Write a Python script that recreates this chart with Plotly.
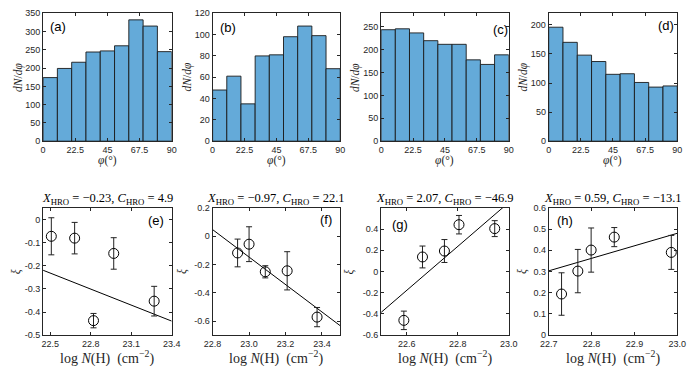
import plotly.graph_objects as go

W, H = 697, 366

# ---------------- data ----------------
bin_edges = [0, 10, 20, 30, 40, 50, 60, 70, 80, 90]
hist_a = [174, 199, 216, 244, 247, 261, 332, 315, 245]
hist_b = [48, 61, 35, 80, 81, 98, 108, 99, 68]
hist_c = [244, 246, 237, 220, 212, 212, 178, 168, 189]
hist_d = [196, 170, 148, 137, 115, 116, 101, 93, 95]
hist_ymax = [350, 120, 280, 220]
hist_yticks = [[0, 50, 100, 150, 200, 250, 300, 350],
               [0, 20, 40, 60, 80, 100, 120],
               [0, 50, 100, 150, 200, 250],
               [0, 50, 100, 150, 200]]
hist_xticks = [0, 22.5, 45, 67.5, 90]
hist_labels = ["(a)", "(b)", "(c)", "(d)"]

x_e = [22.507, 22.68, 22.82, 22.97, 23.27]
y_e = [-0.073, -0.081, -0.437, -0.147, -0.353]
err_e = [0.080, 0.068, 0.031, 0.068, 0.064]

x_f = [22.937, 23.0, 23.089, 23.209, 23.373]
y_f = [-0.119, -0.057, -0.252, -0.245, -0.572]
err_f = [0.098, 0.123, 0.043, 0.135, 0.068]

x_g = [22.589, 22.662, 22.748, 22.805, 22.945]
y_g = [-0.46, 0.137, 0.193, 0.441, 0.404]
err_g = [0.087, 0.103, 0.108, 0.087, 0.075]

x_h = [22.73, 22.768, 22.799, 22.853, 22.986]
y_h = [0.194, 0.302, 0.401, 0.462, 0.39]
err_h = [0.100, 0.102, 0.104, 0.045, 0.080]

fit_slope = [-0.23, -0.97, 2.07, 0.59]
fit_intercept = [4.943, 22.162, -46.96, -13.09]
title_X = ["-0.23", "-0.97", "2.07", "0.59"]
title_C = ["4.9", "22.1", "-46.9", "-13.1"]

sc_xrange = [[22.446, 23.4], [22.8, 23.5], [22.5, 23.0], [22.7, 23.0]]
sc_yrange = [[-0.5, 0.05], [-0.7, 0.2], [-0.6, 0.6], [0.0, 0.6]]
sc_xticks = [[22.5, 22.8, 23.1, 23.4], [22.8, 23.0, 23.2, 23.4], [22.6, 22.8, 23.0], [22.7, 22.8, 22.9, 23.0]]
sc_yticks = [[-0.5, -0.4, -0.3, -0.2, -0.1, 0.0],
             [-0.6, -0.4, -0.2, 0.0, 0.2],
             [-0.6, -0.4, -0.2, 0.0, 0.2, 0.4],
             [0.0, 0.1, 0.2, 0.3, 0.4, 0.5, 0.6]]
sc_labels = ["(e)", "(f)", "(g)", "(h)"]

# ---------------- layout geometry (pixels) ----------------
cols = [(35, 167), (209, 340), (382, 513), (554, 686)]
top_row = (8.5, 140)
bot_row = (208.5, 339.5)
top_ylabel_px = [9, 183, 355, 528]
bot_ylabel_px = [8, 178, 350, 527]
top_xlabel_py = 160
bot_xlabel_py = 362
title_py = 199
# panel label centres in pixels
hist_lab_px = [(50, 22), (224.5, 23), (504.5, 25), (674.5, 21.5)]
sc_lab_px = [(151, 222), (325.5, 221), (401, 226), (570.5, 222)]

def xdom(c):
    return [c[0] / W, c[1] / W]

def ydom(r):
    return [1 - r[1] / H, 1 - r[0] / H]

AX_COL = "#262626"
TICK_FONT = dict(family="Liberation Sans, Arial", size=9, color="#262626")
SERIF = "Liberation Serif, Times New Roman, serif"
LAB_FONT = dict(family=SERIF, size=11.5, color="#262626")
XLAB2_FONT = dict(family=SERIF, size=14, color="#262626")
PANEL_FONT = dict(family="Liberation Sans, Arial", size=13, color="black")
BAR_COL = "rgb(100,170,217)"

def fmt(v):
    return "%g" % round(v, 3)

fig = go.Figure()
layout = dict(width=W, height=H, margin=dict(l=0, r=0, t=0, b=0),
              paper_bgcolor="white", plot_bgcolor="white", showlegend=False)
annotations = []

def axis_common():
    return dict(showline=True, mirror="ticks", linecolor=AX_COL, linewidth=1,
                ticks="inside", ticklen=3, tickcolor=AX_COL, showgrid=False,
                zeroline=False, tickfont=TICK_FONT)

def add_text(text, px, py, font=LAB_FONT, angle=0):
    annotations.append(dict(text=text, xref="paper", yref="paper", x=px / W, y=1 - py / H,
                            xanchor="center", yanchor="middle", showarrow=False, font=font,
                            textangle=angle))

hists = [hist_a, hist_b, hist_c, hist_d]
centers = [(bin_edges[i] + bin_edges[i + 1]) / 2 for i in range(len(bin_edges) - 1)]
widths = [bin_edges[i + 1] - bin_edges[i] for i in range(len(bin_edges) - 1)]

for i in range(4):
    n = i + 1
    xa = "x" if n == 1 else f"x{n}"
    ya = "y" if n == 1 else f"y{n}"
    fig.add_trace(go.Bar(x=centers, y=hists[i], width=widths, xaxis=xa, yaxis=ya,
                         marker=dict(color=BAR_COL, line=dict(color="#1a1a1a", width=0.9))))
    xk = "xaxis" if n == 1 else f"xaxis{n}"
    yk = "yaxis" if n == 1 else f"yaxis{n}"
    ax = axis_common()
    ax.update(domain=xdom(cols[i]), range=[0, 90], anchor=ya, tickvals=hist_xticks,
              ticktext=[fmt(v) for v in hist_xticks])
    layout[xk] = ax
    ay = axis_common()
    ay.update(domain=ydom(top_row), range=[0, hist_ymax[i]], anchor=xa, tickvals=hist_yticks[i],
              ticktext=[str(v) for v in hist_yticks[i]])
    layout[yk] = ay
    add_text("<i>φ</i>(°)", (cols[i][0] + cols[i][1]) / 2, top_xlabel_py)
    add_text("<i>dN</i>/<i>dφ</i>", top_ylabel_px[i], (top_row[0] + top_row[1]) / 2, angle=-90)
    lx, ly = hist_lab_px[i]
    add_text(hist_labels[i], lx, ly, font=PANEL_FONT)

sx = [x_e, x_f, x_g, x_h]
sy = [y_e, y_f, y_g, y_h]
se = [err_e, err_f, err_g, err_h]

for i in range(4):
    n = i + 5
    xa = f"x{n}"
    ya = f"y{n}"
    xr = sc_xrange[i]
    fig.add_trace(go.Scatter(x=xr, y=[fit_slope[i] * v + fit_intercept[i] for v in xr],
                             mode="lines", line=dict(color="black", width=1),
                             xaxis=xa, yaxis=ya, cliponaxis=True))
    fig.add_trace(go.Scatter(x=sx[i], y=sy[i], mode="markers", xaxis=xa, yaxis=ya,
                             marker=dict(symbol="circle-open", size=10, color="black",
                                         line=dict(color="black", width=1)),
                             error_y=dict(type="data", array=se[i], color="#222222",
                                          thickness=1, width=3)))
    ax = axis_common()
    ax.update(domain=xdom(cols[i]), range=xr, anchor=ya, tickvals=sc_xticks[i],
              ticktext=["%.1f" % v for v in sc_xticks[i]])
    layout[f"xaxis{n}"] = ax
    ay = axis_common()
    ay.update(domain=ydom(bot_row), range=sc_yrange[i], anchor=xa, tickvals=sc_yticks[i],
              ticktext=[fmt(v) for v in sc_yticks[i]])
    layout[f"yaxis{n}"] = ay
    add_text("log <i>N</i>(H)  (cm<sup>−2</sup>)", (cols[i][0] + cols[i][1]) / 2,
             bot_xlabel_py, font=XLAB2_FONT)
    add_text("<i>ξ</i>", bot_ylabel_px[i], (bot_row[0] + bot_row[1]) / 2, angle=-90)
    xv = title_X[i].replace("-", "−")
    cv = title_C[i].replace("-", "−")
    add_text(f"<i>X</i><sub>HRO</sub> = {xv}, <i>C</i><sub>HRO</sub> = {cv}",
             (cols[i][0] + cols[i][1]) / 2, title_py,
             font=dict(family=SERIF, size=12.5, color="black"))
    lx, ly = sc_lab_px[i]
    add_text(sc_labels[i], lx, ly, font=PANEL_FONT)

layout["annotations"] = annotations
fig.update_layout(**layout)
fig.write_html("out.html", config={"displayModeBar": False},
               post_script="document.body.style.margin='0';document.body.style.padding='0';")
